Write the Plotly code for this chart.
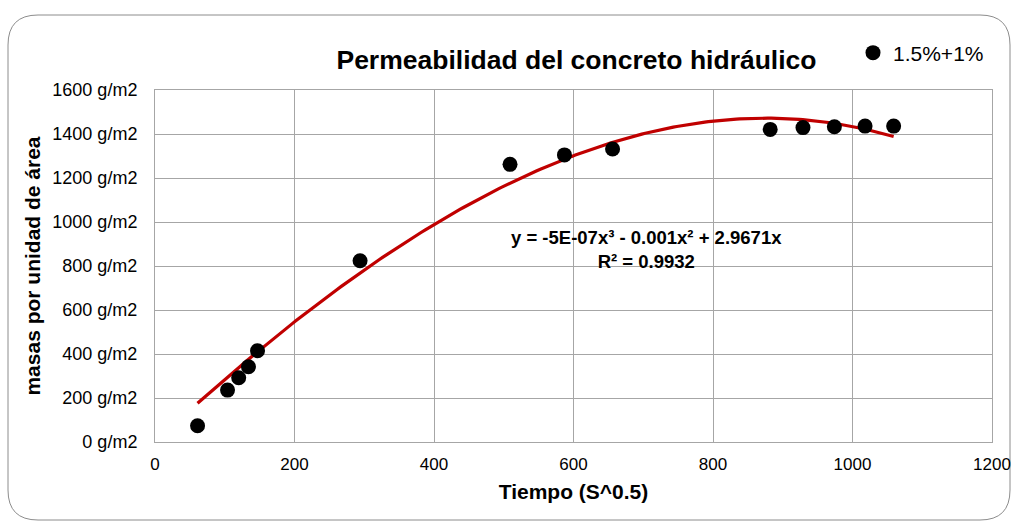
import numpy as np
import plotly.graph_objects as go

# Measured permeability data
tiempo = [61, 104, 120, 134, 147, 294, 509, 587, 656, 882, 929, 974, 1018, 1059]
masa = [74, 236, 292, 342, 415, 824, 1262, 1305, 1332, 1421, 1429, 1433, 1436, 1436]
serie_nombre = "1.5%+1%"
ecuacion = "y = -5E-07x³ - 0.001x² + 2.9671x<br>R² = 0.9932"
x_ticks = [0, 200, 400, 600, 800, 1000, 1200]
y_ticks = [0, 200, 400, 600, 800, 1000, 1200, 1400, 1600]

# Cubic polynomial trendline through the origin (least squares)
xa = np.array(tiempo, dtype=float)
ya = np.array(masa, dtype=float)
A = np.column_stack([xa ** 3, xa ** 2, xa])
coef, *_ = np.linalg.lstsq(A, ya, rcond=None)
xt = np.linspace(xa.min(), xa.max(), 200)
yt = coef[0] * xt ** 3 + coef[1] * xt ** 2 + coef[2] * xt

W, H = 1014, 522
L, R, T, B = 155, 22, 90, 80
pw, ph = W - L - R, H - T - B
FONT = "Liberation Sans, Arial, sans-serif"

def px(x):
    return (x - L) / pw

def py(y):
    return (H - B - y) / ph

fig = go.Figure()
fig.add_trace(go.Scatter(
    x=xt, y=yt, mode="lines", line=dict(color="#C00000", width=3.2),
    showlegend=False, hoverinfo="skip"))
fig.add_trace(go.Scatter(
    x=tiempo, y=masa, mode="markers", name=serie_nombre,
    marker=dict(color="black", size=15, line=dict(width=0))))

# Rounded chart frame
x0, x1, y0, y1, r = 8, 1010, 15, 520, 30
path = (f"M {px(x0 + r)} {py(y0)} L {px(x1 - r)} {py(y0)} "
        f"Q {px(x1)} {py(y0)} {px(x1)} {py(y0 + r)} L {px(x1)} {py(y1 - r)} "
        f"Q {px(x1)} {py(y1)} {px(x1 - r)} {py(y1)} L {px(x0 + r)} {py(y1)} "
        f"Q {px(x0)} {py(y1)} {px(x0)} {py(y1 - r)} L {px(x0)} {py(y0 + r)} "
        f"Q {px(x0)} {py(y0)} {px(x0 + r)} {py(y0)} Z")
fig.add_shape(type="path", path=path, xref="paper", yref="paper",
              line=dict(color="#8C8C8C", width=1), layer="below")

# Trendline equation label, centred under the curve
fig.add_annotation(
    x=px(646), y=py(249), xref="paper", yref="paper", text="<b>" + ecuacion + "</b>",
    showarrow=False, font=dict(size=18.5, color="black", family=FONT),
    align="center", xanchor="center", yanchor="middle")

fig.update_layout(
    width=W, height=H,
    margin=dict(l=L, r=R, t=T, b=B, autoexpand=False),
    paper_bgcolor="white", plot_bgcolor="white",
    font=dict(family=FONT, color="black", size=17),
    title=dict(text="<b>Permeabilidad del concreto hidráulico</b>",
               x=(335 + 818) / 2 / W, xanchor="center",
               y=1 - 60 / H, yanchor="middle",
               font=dict(size=26.5, color="black")),
    legend=dict(x=px(853), y=py(53), xanchor="left", yanchor="middle",
                font=dict(size=21), bgcolor="rgba(0,0,0,0)",
                itemwidth=30, tracegroupgap=0),
    xaxis=dict(range=[0, 1200], tickvals=x_ticks, showgrid=True, automargin=False,
               gridcolor="#A6A6A6", gridwidth=1, showline=True, linecolor="#A6A6A6",
               mirror=True, zeroline=False, ticks="", ticklen=0,
               ticklabelstandoff=7,
               tickfont=dict(size=17),
               title=dict(text="<b>Tiempo (S^0.5)</b>", font=dict(size=21), standoff=10)),
    yaxis=dict(range=[0, 1600], tickvals=y_ticks, automargin=False,
               ticktext=[f"{v} g/m2" for v in y_ticks], showgrid=True,
               gridcolor="#A6A6A6", gridwidth=1, showline=True, linecolor="#A6A6A6",
               mirror=True, zeroline=False, ticks="",
               ticklabelstandoff=13,
               tickfont=dict(size=18),
               title=dict(text="<b>masas por unidad de área</b>", font=dict(size=21),
                          standoff=5)),
)

fig.write_html("out.html")
